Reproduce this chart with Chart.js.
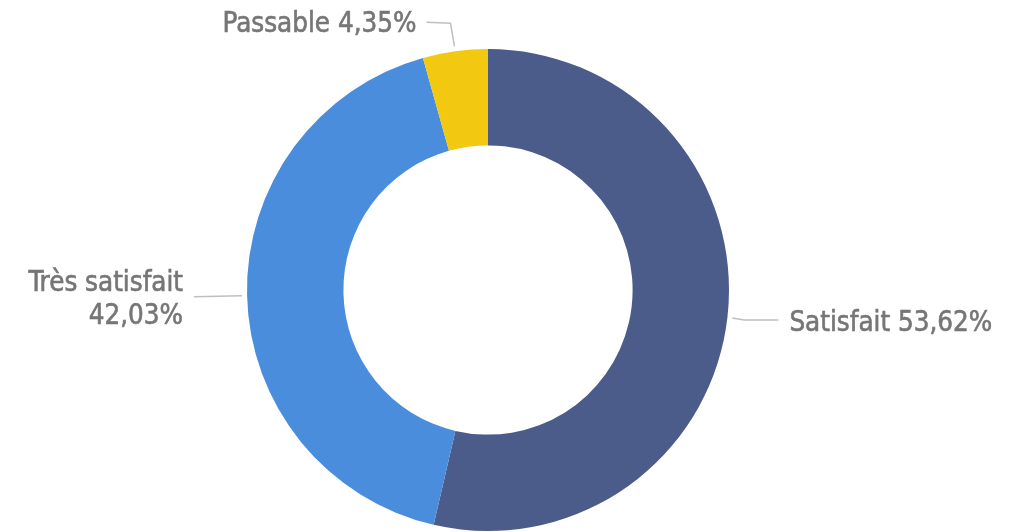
<!DOCTYPE html>
<html>
<head>
<meta charset="utf-8">
<script src="https://cdn.jsdelivr.net/npm/chart.js@4.4.0/dist/chart.umd.min.js"></script>
<style>
  html, body { margin: 0; padding: 0; background: #fff; }
  #wrap { width: 1021px; height: 532px; }
</style>
</head>
<body>
<div id="wrap"><canvas id="myChart" width="1021" height="532"></canvas></div>
<script>
// data
const categories = ['Satisfait', 'Très satisfait', 'Passable'];
const shares = [53.62, 42.03, 4.35];
const shareLabels = ['53,62%', '42,03%', '4,35%'];
const sliceColors = ['#4b5c8a', '#4a8ddc', '#f2c811'];

const FONT = '"DejaVu Sans Condensed", "Liberation Sans Narrow", sans-serif';

// label placement for each slice (offsets from the slice's outer mid point)
const labelStyle = [
  { side: 'right', lines: [categories[0] + ' ' + shareLabels[0]] },
  { side: 'left', lines: [categories[1], shareLabels[1]] },
  { side: 'up', lines: [categories[2] + ' ' + shareLabels[2]] }
];

function drawText(ctx, txt, x, y) {
  ctx.fillText(txt, x, y);
  ctx.strokeText(txt, x, y); // thicken a bit, reference font is heavier
}

const leaderLabels = {
  id: 'leaderLabels',
  afterDatasetsDraw(chart) {
    const ctx = chart.ctx;
    const meta = chart.getDatasetMeta(0);
    ctx.save();
    ctx.font = '27.5px ' + FONT;
    meta.data.forEach((arc, i) => {
      const mid = (arc.startAngle + arc.endAngle) / 2;
      const r = arc.outerRadius;
      const px = arc.x + Math.cos(mid) * (r + 5);
      const py = arc.y + Math.sin(mid) * (r + 5);
      const st = labelStyle[i];
      ctx.strokeStyle = '#bfbfbf';
      ctx.lineWidth = 1.5;
      ctx.beginPath();
      if (st.side === 'right') {
        ctx.moveTo(px, py);
        ctx.lineTo(px + 12, py + 2);
        ctx.lineTo(px + 46, py + 2);
      } else if (st.side === 'left') {
        ctx.moveTo(px, py);
        ctx.lineTo(px - 48, py + 1);
      } else {
        ctx.moveTo(px, py);
        ctx.lineTo(px - 4, py - 23);
        ctx.lineTo(px - 28, py - 24);
      }
      ctx.stroke();

      ctx.fillStyle = '#767676';
      ctx.strokeStyle = '#767676';
      ctx.lineWidth = 0.6;
      ctx.textBaseline = 'middle';
      if (st.side === 'right') {
        ctx.textAlign = 'left';
        drawText(ctx, st.lines[0], px + 57, py + 6);
      } else if (st.side === 'left') {
        ctx.textAlign = 'right';
        drawText(ctx, st.lines[0], px - 59, py - 12);
        drawText(ctx, st.lines[1], px - 59, py + 21);
      } else {
        ctx.textAlign = 'right';
        drawText(ctx, st.lines[0], px - 38, py - 21);
      }
    });
    ctx.restore();
  }
};

document.addEventListener('DOMContentLoaded', function () {
  const ctx = document.getElementById('myChart').getContext('2d');
  new Chart(ctx, {
    type: 'doughnut',
    data: {
      labels: categories,
      datasets: [{
        data: shares,
        backgroundColor: sliceColors,
        borderWidth: 0
      }]
    },
    options: {
      responsive: false,
      animation: false,
      cutout: '60%',
      layout: { padding: { top: 49, bottom: 1, left: 0, right: 45 } },
      plugins: {
        legend: { display: false },
        tooltip: { enabled: false }
      }
    },
    plugins: [leaderLabels]
  });
});
</script>
</body>
</html>
